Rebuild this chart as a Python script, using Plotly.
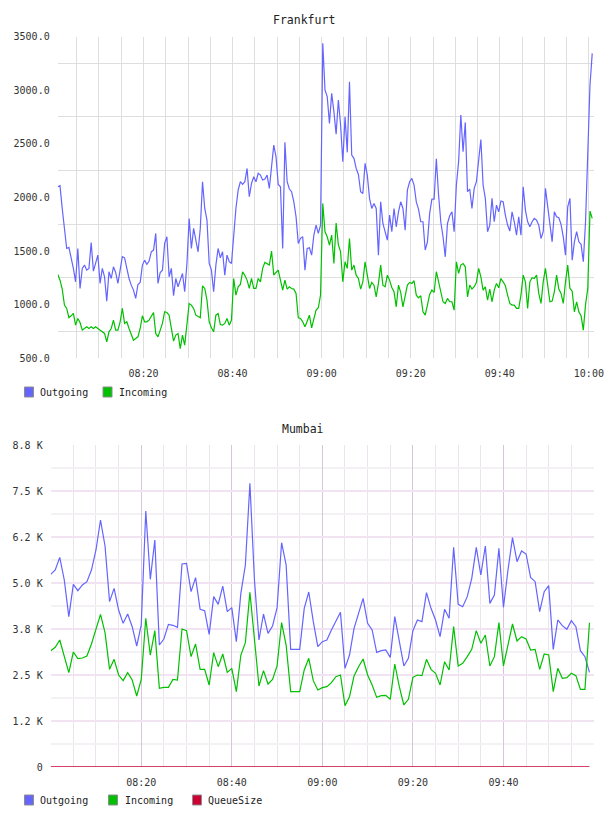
import plotly.graph_objects as go
import pandas as pd

# ---------------- DATA ----------------
# Frankfurt, 30-second samples starting 08:00:45
fra_out = [
    2099, 2109, 1897, 1680, 1524, 1534, 1447, 1338, 1213, 1524, 1151, 1338, 1369, 1322, 1338, 1580,
    1313, 1400, 1462, 1198, 1338, 1260, 1033, 1307, 1244, 1353, 1300, 1198, 1322, 1447, 1437, 1338,
    1244, 1182, 1136, 1058, 1188, 1207, 1369, 1415, 1375, 1406, 1493, 1509, 1664, 1198, 1300, 1322,
    1571, 1633, 1260, 1338, 1083, 1244, 1167, 1229, 1291, 1120, 1384, 1804, 1524, 1711, 1586, 1493,
    1711, 2146, 1897, 1788, 1384, 1322, 1120, 1369, 1524, 1437, 1493, 1275, 1462, 1400, 1384, 1648,
    1897, 2068, 2146, 2121, 2146, 2270, 2006, 2130, 2193, 2146, 2224, 2208, 2162, 2171, 2208, 2084,
    2301, 2488, 2379, 2121, 2099, 1524, 2513, 2146, 2078, 2053, 1959, 1820, 1571, 1618, 1633, 1322,
    1524, 1530, 1462, 1648, 1742, 1664, 1742, 3436, 3001, 2939, 2690,
    2970, 2799, 2590, 2908, 2675, 2333, 2752, 2420, 3079, 2395, 2364, 2270, 2214, 2053, 2037, 2317,
    2208, 1991, 1897, 1944, 1897, 1462, 1959, 1757, 1680, 1602, 1835, 1680, 1897, 1726, 1866, 1959,
    1897, 1695, 2068, 2146, 2177, 2115, 1959, 1891, 1773, 1773, 1509, 1586, 1851, 1984, 1984, 2360,
    2022, 1773, 1633, 1446, 1757, 1829, 1866, 1680, 2115, 2333, 2768, 2426, 2699, 2053, 2078, 1897,
    2084, 2146, 2348, 2540, 2115, 1991, 1680, 1742, 1991, 1773, 1928, 1866, 1966, 1959, 1835, 1742,
    1686, 1866, 1773, 1648, 1820, 1648, 2099, 1882, 1773, 1726, 1773, 1804, 1788, 1742, 1617, 1680,
    2084, 1897, 1767, 1586, 1866, 1820, 1810, 1748, 1633, 1462, 1913, 1991, 1415, 1586, 1680, 1586,
    1562, 1400, 1773, 2364, 3048, 3343,
]
fra_in = [
    1282, 1229, 1145, 996, 965, 878, 896, 918, 809, 871, 834, 763, 778, 794, 778, 794,
    778, 794, 778, 763, 747, 732, 654, 747, 778, 856, 763, 763, 840, 965, 825, 840,
    778, 716, 669, 685, 700, 778, 896, 840, 840, 856, 887, 927, 731, 700, 763, 825,
    934, 927, 902, 794, 660, 716, 731, 590, 716, 623, 809, 1011, 996, 965, 902, 887,
    878, 1176, 1151, 1042, 840, 784, 747, 902, 918, 815, 809, 825, 871, 809, 856, 1244,
    1089, 1167, 1189, 1307, 1275, 1229, 1151, 1244, 1151, 1151, 1244, 1213, 1338, 1394, 1384, 1369,
    1500, 1275, 1300, 1322, 1229, 1136, 1229, 1145, 1167, 1151, 1145, 1105, 878, 871, 840, 794,
    846, 902, 784, 871, 949, 971, 1089, 1944, 1680, 1633, 1555,
    1649, 1384, 1760, 1560, 1493, 1213, 1400, 1338, 1617, 1322, 1369, 1275, 1244, 1145, 1213, 1400,
    1275, 1151, 1207, 1182, 1073, 1198, 1369, 1182, 1167, 1275, 1229, 1160, 1120, 980, 1182, 1114,
    980, 1083, 1182, 1207, 1198, 1223, 1089, 1064, 1083, 933, 902, 996, 1095, 1136, 1114, 1307,
    1213, 1126, 1027, 1011, 1058, 1027, 1027, 949, 1400, 1291, 1369, 1384, 1353, 1073, 1182, 1145,
    1167, 1207, 1338, 1260, 1136, 1167, 1042, 1145, 1027, 1136, 1198, 1157, 1244, 1213, 1176, 1089,
    1011, 996, 996, 965, 965, 1089, 1275, 1213, 965, 1213, 1251, 1244, 1275, 1105, 1011, 1213,
    1338, 1182, 1027, 1033, 1120, 1275, 1145, 1105, 1011, 1213, 1369, 1151, 1126, 933, 1027, 933,
    896, 763, 1000, 1150, 1872, 1804,
]

# Mumbai, 1-minute samples starting 08:00
mum_out = [
    5236, 5353, 5697, 5082, 4085, 4964, 4792, 4946, 5036, 5353, 5897, 6712, 6005, 4493, 4855, 4266,
    3904, 4158, 3813, 3288, 3859, 6957, 5100, 6168, 3315, 3478, 3877, 3850, 3795, 5516, 5534, 4765,
    5145, 4284, 4248, 3605, 4629, 4420, 4918, 4221, 4330, 3406, 4719, 5489, 7708, 5082, 3451, 4158,
    3632, 3832, 4330, 6096, 5489, 3197, 3197, 3197, 4312, 4755, 3949, 3270, 3406,
    3451, 3723, 3949, 4203, 2681, 3043, 3768, 4176, 4583, 3904, 3723, 3116, 3161, 3179, 2980, 4085,
    3361, 2745, 2953, 3705, 3995, 3949, 4737, 4312, 3995, 3542, 4284, 4040, 5969, 4420, 4357, 4629,
    5127, 5969, 5217, 6005, 4447, 4674, 5942, 4339, 5353, 6232, 5580, 5870, 5788, 5154, 5036, 4221,
    4765, 4928, 3197, 3995, 3841, 3741, 3976, 3813, 3161, 2998, 2572,
]
mum_in = [
    3161, 3252, 3451, 2998, 2563, 3125, 2944, 2962, 3016, 3342, 3768, 4149, 3650, 2654, 2926, 2500,
    2346, 2563, 2364, 1929, 2382, 4040, 3043, 3705, 2138, 2165, 2165, 2382, 2364, 3750, 3705, 2998,
    3342, 2654, 2654, 2228, 3107, 2726, 3071, 2572, 2681, 2047, 3043, 3379, 4746, 3451, 2201, 2618,
    2255, 2382, 2745, 3922, 3315, 2047, 2047, 2047, 2636, 2953, 2346, 2092, 2156,
    2183, 2292, 2455, 2500, 1667, 1911, 2473, 2726, 2935, 2500, 2228, 1893, 1938, 1947, 1839, 2799,
    2183, 1685, 1839, 2437, 2500, 2482, 2926, 2654, 2545, 2228, 2862, 2636, 3813, 2745, 2817, 2998,
    3197, 3705, 3361, 3587, 2745, 2998, 3922, 2745, 3361, 3886, 3424, 3542, 3478, 3179, 3197, 2654,
    3071, 3043, 2047, 2681, 2409, 2428, 2545, 2482, 2111, 2111, 3922,
]
mum_queue = [0] * len(mum_out)

fra_yticks = [500, 1000, 1500, 2000, 2500, 3000, 3500]
fra_ygrid = [750, 1250, 1750, 2250, 2750, 3250]
mum_yticks = [0, 1250, 2500, 3750, 5000, 6250, 7500, 8750]
mum_yticktext = ["0", "1.2 K", "2.5 K", "3.8 K", "5.0 K", "6.2 K", "7.5 K", "8.8 K"]
mum_ygrid = [625, 1875, 3125, 4375, 5625, 6875, 8125]

series_names = ["Outgoing", "Incoming", "QueueSize"]
C_OUT, C_IN, C_Q = "#6464ff", "#00c000", "#cc0033"

day = "2024-05-06 "
fra_time = pd.date_range(day + "08:00:45", periods=len(fra_out), freq="30s")
mum_time = pd.date_range(day + "08:00:00", periods=len(mum_out), freq="60s")

fra_major = [day + t for t in ["08:20", "08:40", "09:00", "09:20", "09:40", "10:00"]]
fra_minor = list(pd.date_range(day + "08:05", day + "10:00", freq="5min"))
mum_major = [day + t for t in ["08:00", "08:20", "08:40", "09:00", "09:20", "09:40"]]
mum_major_text = ["", "08:20", "08:40", "09:00", "09:20", "09:40"]
mum_minor = list(pd.date_range(day + "08:05", day + "10:00", freq="5min"))

W, H = 608, 816
def px(x):
    return x / W
def py(y):
    return 1 - y / H

FONT = "DejaVu Sans Mono"
tickfont = dict(family=FONT, size=10, color="#333333")

fig = go.Figure()
fig.add_trace(go.Scatter(x=fra_time, y=fra_out, mode="lines", name=series_names[0],
                         line=dict(color=C_OUT, width=1.2), xaxis="x", yaxis="y"))
fig.add_trace(go.Scatter(x=fra_time, y=fra_in, mode="lines", name=series_names[1],
                         line=dict(color=C_IN, width=1.2), xaxis="x", yaxis="y"))
fig.add_trace(go.Scatter(x=mum_time, y=mum_out, mode="lines", name=series_names[0],
                         line=dict(color=C_OUT, width=1.2), xaxis="x2", yaxis="y2"))
fig.add_trace(go.Scatter(x=mum_time, y=mum_in, mode="lines", name=series_names[1],
                         line=dict(color=C_IN, width=1.2), xaxis="x2", yaxis="y2"))
fig.add_trace(go.Scatter(x=mum_time, y=mum_queue, mode="lines", name=series_names[2],
                         line=dict(color=C_Q, width=1.5), xaxis="x2", yaxis="y2", cliponaxis=False))

GRID_F = "#dedede"
fig.update_layout(
    width=W, height=H, margin=dict(l=0, r=0, t=0, b=0, autoexpand=False),
    paper_bgcolor="white", plot_bgcolor="white", showlegend=False,
    xaxis=dict(domain=[px(57.7), px(594)], anchor="y", type="date", automargin=False,
               range=[day + "08:00:44", day + "10:01:09"],
               tickmode="array", tickvals=fra_major, tickformat="%H:%M",
               showgrid=True, gridcolor=GRID_F, gridwidth=1,
               minor=dict(tickvals=fra_minor, showgrid=True, gridcolor=GRID_F, gridwidth=1),
               zeroline=False, showline=False, ticks="", ticklabelstandoff=8, tickfont=tickfont),
    yaxis=dict(domain=[py(358.3), py(36.5)], anchor="x", range=[500, 3500], automargin=False,
               tickmode="array", tickvals=fra_yticks, tickformat=".1f",
               showgrid=False,
               minor=dict(tickvals=fra_ygrid, showgrid=True, gridcolor=GRID_F, gridwidth=1),
               zeroline=False, showline=False, ticks="", ticklabelstandoff=7, tickfont=tickfont),
    xaxis2=dict(domain=[px(50.7), px(594)], anchor="y2", type="date", automargin=False,
                range=[day + "08:00:00", day + "10:00:00"],
                tickmode="array", tickvals=mum_major, ticktext=mum_major_text,
                showgrid=True, gridcolor="#dcc3dc", gridwidth=1,
                minor=dict(tickvals=mum_minor, showgrid=True, gridcolor="#ece4ec", gridwidth=1),
                zeroline=False, showline=False, ticks="", ticklabelstandoff=8, tickfont=tickfont),
    yaxis2=dict(domain=[py(767), py(445)], anchor="x2", range=[0, 8750], automargin=False,
                tickmode="array", tickvals=mum_yticks, ticktext=mum_yticktext,
                showgrid=True, gridcolor="#f1e3f1", gridwidth=2,
                minor=dict(tickvals=mum_ygrid, showgrid=True, gridcolor="#f3f1f3", gridwidth=2),
                zeroline=False, showline=False, ticks="", ticklabelstandoff=7, tickfont=tickfont),
)

# Titles
fig.add_annotation(x=px(304), y=py(20), xref="paper", yref="paper", text="Frankfurt",
                   showarrow=False, font=dict(family=FONT, size=11.5, color="#222222"),
                   xanchor="center", yanchor="middle")
fig.add_annotation(x=px(303), y=py(429), xref="paper", yref="paper", text="Mumbai",
                   showarrow=False, font=dict(family=FONT, size=11.5, color="#222222"),
                   xanchor="center", yanchor="middle")

# Legends (boxes + labels)
def legend_item(xbox, xtext, yc, color, label):
    fig.add_shape(type="rect", xref="paper", yref="paper",
                  x0=px(xbox), x1=px(xbox + 9), y0=py(yc + 5), y1=py(yc - 5),
                  fillcolor=color, line=dict(color="#8c8c8c", width=1))
    fig.add_annotation(x=px(xtext), y=py(yc), xref="paper", yref="paper", text=label,
                       showarrow=False, font=dict(family=FONT, size=10, color="#222222"),
                       xanchor="left", yanchor="middle")

legend_item(24.5, 38, 392, C_OUT, series_names[0])
legend_item(103, 117, 392, C_IN, series_names[1])
legend_item(24.5, 38, 800, C_OUT, series_names[0])
legend_item(108.5, 123, 800, C_IN, series_names[1])
legend_item(192.5, 206, 800, C_Q, series_names[2])

fig.write_html("out.html")
